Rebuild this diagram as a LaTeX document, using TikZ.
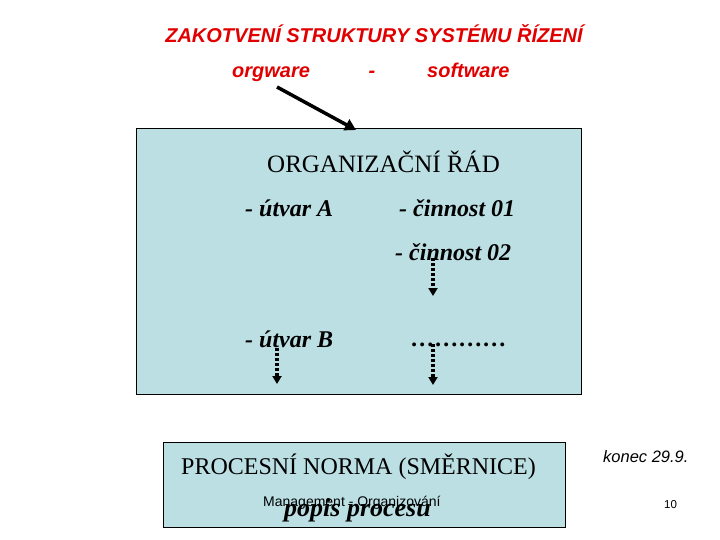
\documentclass[tikz,border=0pt]{standalone}
\usepackage{fontspec}
\setmainfont{Liberation Serif}
\newfontfamily\arialf{Liberation Sans}
\usetikzlibrary{arrows.meta}
\definecolor{boxfill}{RGB}{187,223,227}
\definecolor{titlered}{RGB}{225,0,0}
\tikzset{
  panel/.style={draw=black, line width=1.2pt, fill=boxfill},
  redtxt/.style={text=titlered, font=\arialf\bfseries\itshape\fontsize{20}{24}\selectfont, inner sep=0pt},
  serifbig/.style={font=\fontsize{24}{28}\selectfont, inner sep=0pt},
  bitxt/.style={font=\bfseries\itshape\fontsize{24}{28}\selectfont, inner sep=0pt},
  dotarrow/.style={line width=4pt, dash pattern=on 3pt off 2pt, -{Triangle[width=9pt,length=8pt]}},
}
\begin{document}
\begin{tikzpicture}[x=1pt,y=-1pt]
\useasboundingbox (0,0) rectangle (720,540);
% boxes
\node[panel, minimum width=445pt, minimum height=266pt, inner sep=0pt, anchor=north west] (box1) at (136,128) {};
\node[panel, minimum width=402pt, minimum height=85pt, inner sep=0pt, anchor=north west] (box2) at (163,442) {};
% title
\node[redtxt, anchor=base] (title) at (374,43) {ZAKOTVENÍ STRUKTURY SYSTÉMU ŘÍZENÍ};
\node[redtxt, anchor=base west] (orgware) at (232,78) {orgware};
\node[redtxt, anchor=base] (dash) at (372,78) {-};
\node[redtxt, anchor=base west] (software) at (427,78) {software};
% main arrow
\coordinate (arrS) at (277,87);
\coordinate (arrE) at (356,130);
\draw[line width=3.5pt, -{Triangle[width=12pt,length=11pt]}] (arrS) -- (arrE);
% box1 contents
\node[font=\fontsize{25}{29}\selectfont, inner sep=0pt, anchor=base west] (org) at (267,173) {ORGANIZAČNÍ ŘÁD};
\node[bitxt, anchor=base west] (ua) at (245,217) {- útvar A};
\node[bitxt, anchor=base west] (c1) at (399,217) {- činnost 01};
\node[bitxt, anchor=base west] (c2) at (395,260) {- činnost 02};
\node[bitxt, anchor=base west] (ub) at (245,347) {- útvar B};
\node[bitxt, anchor=base west] (dots) at (411,346) {…………};
\coordinate (d1s) at (433,258);
\coordinate (d1e) at (433,296);
\coordinate (d2s) at (277,348);
\coordinate (d2e) at (277,384);
\coordinate (d3s) at (433,344);
\coordinate (d3e) at (433,385);
\draw[dotarrow] (d1s) -- (d1e);
\draw[dotarrow] (d2s) -- (d2e);
\draw[dotarrow] (d3s) -- (d3e);
% box2 contents
\node[serifbig, anchor=base west] (pn) at (181,474) {PROCESNÍ NORMA (SMĚRNICE)};
\node[font=\arialf\fontsize{14}{16}\selectfont, inner sep=0pt, anchor=base west] (mgmt) at (263,506) {Management - Organizování};
\node[font=\bfseries\itshape\fontsize{26}{30}\selectfont, inner sep=0pt, anchor=base west] (popis) at (284,516) {popis procesu};
% side texts
\node[font=\arialf\itshape\fontsize{16.5}{19}\selectfont, inner sep=0pt, anchor=base west] (konec) at (603,462) {konec 29.9.};
\node[font=\arialf\fontsize{11.5}{13}\selectfont, inner sep=0pt, anchor=base west] (pg) at (664,508) {10};
\end{tikzpicture}
\end{document}
